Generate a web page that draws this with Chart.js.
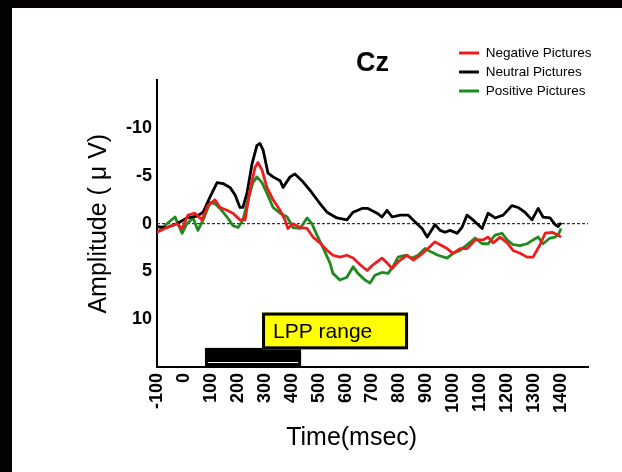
<!DOCTYPE html>
<html>
<head>
<meta charset="utf-8">
<title>Cz</title>
<script src="https://cdn.jsdelivr.net/npm/chart.js@4.4.0/dist/chart.umd.min.js"></script>
<style>
  html, body { margin: 0; padding: 0; background: #050203; }
  #wrap { position: absolute; left: 12px; top: 8px; width: 610px; height: 464px; background: #fff; }
</style>
</head>
<body>
<div id="wrap"><canvas id="erp" width="610" height="464"></canvas></div>
<script>
const FONT = "'Liberation Sans', Arial, sans-serif";

// grand-average ERP at Cz, time in ms, amplitude in µV (negative up)
const negTimes = [-100, -63, -26, -7, 15, 41, 67, 89, 115, 134, 160, 182, 208, 227, 245, 264, 275, 290, 308, 331,
  357, 375, 386, 405, 431, 457, 479, 505, 531, 553, 579, 605, 628, 654, 680, 702, 735, 754, 773, 795,
  828, 851, 877, 906, 932, 951, 977, 999, 1025, 1051, 1081, 1110, 1129, 1148, 1174, 1200, 1222, 1248, 1274, 1296,
  1322, 1341, 1367, 1389, 1400];
const negValues = [0.9, 0.4, 0, 0.5, -0.9, -1.1, -0.4, -1.9, -2.5, -1.7, -1.4, -1.1, -0.4, -0.4, -3.5, -5.9, -6.4, -5.6, -3.8, -2.5,
  -1.4, -0.4, 0.5, 0, 0.4, 0.5, 1.4, 2.0, 2.8, 3.3, 3.5, 3.3, 3.6, 4.3, 4.9, 4.3, 3.6, 4.1, 4.7, 4.0,
  3.3, 3.8, 3.3, 2.6, 1.9, 2.2, 2.6, 3.1, 2.6, 2.6, 1.7, 1.7, 1.4, 2.0, 1.4, 2.0, 2.8, 3.1, 3.5, 3.5,
  2.2, 1.0, 0.9, 1.2, 1.4];

const neuTimes = [-100, -63, -26, 11, 49, 71, 97, 123, 145, 171, 190, 208, 219, 234, 253, 271, 282, 294, 312, 331,
  357, 368, 394, 412, 438, 468, 505, 531, 568, 605, 628, 661, 683, 717, 735, 754, 773, 802, 832, 865,
  884, 903, 932, 951, 969, 988, 1014, 1032, 1051, 1073, 1107, 1129, 1155, 1185, 1218, 1240, 1266, 1292, 1315, 1333,
  1359, 1378, 1389, 1400];
const neuValues = [0.3, 0.4, 0, -0.6, -0.8, -1.2, -2.8, -4.3, -4.2, -3.8, -3.0, -1.7, -1.7, -3.2, -6.3, -8.2, -8.4, -7.7, -5.3, -4.9,
  -4.5, -3.8, -4.9, -5.2, -4.5, -3.5, -2.1, -1.2, -0.6, -0.4, -1.2, -1.6, -1.6, -1.1, -0.7, -1.4, -0.7, -0.9, -0.9, 0,
  0.5, 1.4, 0.1, 0.7, 0.9, 0.7, 1.0, 0.4, -0.9, -0.4, 0.5, -1.1, -0.6, -0.9, -1.9, -1.7, -1.2, -0.4, -1.6, -0.7,
  -0.6, 0.1, 0.3, -0.1];

const posTimes = [-100, -63, -33, -7, 11, 34, 52, 71, 97, 115, 134, 160, 182, 201, 219, 238, 256, 271, 290, 308,
  331, 357, 383, 405, 431, 457, 475, 494, 516, 542, 553, 579, 605, 628, 646, 672, 691, 709, 735, 758,
  776, 795, 821, 847, 869, 895, 921, 943, 977, 999, 1025, 1051, 1081, 1107, 1129, 1155, 1181, 1200, 1222, 1248,
  1274, 1296, 1315, 1333, 1359, 1378, 1389, 1400];
const posValues = [0.9, 0, -0.7, 1.0, 0, -0.6, 0.7, -0.4, -2.2, -2.1, -1.6, -0.7, 0.2, 0.4, -0.4, -2.5, -4.3, -4.9, -4.3, -3.2,
  -1.7, -1.1, -0.7, 0.4, 0.5, -0.6, 0, 1.2, 2.5, 4.1, 5.2, 5.9, 5.6, 4.5, 5.2, 5.9, 6.2, 5.4, 5.1, 5.2,
  4.5, 3.5, 3.3, 3.6, 3.3, 2.6, 3.0, 3.3, 3.6, 3.1, 2.8, 2.2, 1.5, 2.1, 2.1, 1.2, 1.0, 1.7, 2.2, 2.3,
  2.1, 1.7, 1.4, 2.1, 1.5, 1.4, 1.2, 0.5];

const xTickValues = [-100, 0, 100, 200, 300, 400, 500, 600, 700, 800, 900, 1000, 1100, 1200, 1300, 1400];
const yTickValues = [-10, -5, 0, 5, 10];

// LPP window marker (ms) and the label box beside it (ms, µV)
const lppWindow = [78, 435];
const lppDepth = [13.0, 15];
const lppLabelSpan = [290, 832];
const lppLabelDepth = [9.3, 13.15];

const toPoints = (times, values) => times.map((t, i) => ({ x: t, y: values[i] }));

const lppPlugin = {
  id: 'lppRange',
  afterDatasetsDraw(chart) {
    const { ctx, scales: { x, y } } = chart;
    const bx0 = x.getPixelForValue(lppWindow[0]);
    const bx1 = x.getPixelForValue(lppWindow[1]);
    const by0 = y.getPixelForValue(lppDepth[0]);
    const by1 = y.getPixelForValue(lppDepth[1]);
    ctx.save();
    ctx.fillStyle = '#000';
    ctx.fillRect(bx0, by0, bx1 - bx0, by1 - by0);
    ctx.strokeStyle = '#fff';
    ctx.lineWidth = 1;
    ctx.beginPath();
    ctx.moveTo(bx0 + 3, by1 - 4.5);
    ctx.lineTo(bx1 - 3, by1 - 4.5);
    ctx.stroke();

    const lx0 = x.getPixelForValue(lppLabelSpan[0]);
    const lx1 = x.getPixelForValue(lppLabelSpan[1]);
    const ly0 = y.getPixelForValue(lppLabelDepth[0]);
    const ly1 = y.getPixelForValue(lppLabelDepth[1]);
    ctx.fillStyle = '#ffff00';
    ctx.fillRect(lx0, ly0, lx1 - lx0, ly1 - ly0);
    ctx.strokeStyle = '#000';
    ctx.lineWidth = 3;
    ctx.strokeRect(lx0 + 1.5, ly0 + 1.5, lx1 - lx0 - 3, ly1 - ly0 - 3);
    ctx.fillStyle = '#000';
    ctx.font = '21px ' + FONT;
    ctx.textBaseline = 'middle';
    ctx.fillText('LPP range', lx0 + 11, (ly0 + ly1) / 2 + 1);
    ctx.restore();
  }
};

// park the legend in the top-right corner, above the plot
const legendCorner = {
  id: 'legendCorner',
  afterLayout(chart) {
    const lg = chart.legend;
    lg.left = 441.5;
    lg.top = 32.75;
    lg.right = 610;
    lg.bottom = 130;
    lg.width = lg.right - lg.left;
    lg.height = lg.bottom - lg.top;
  }
};

new Chart(document.getElementById('erp'), {
  type: 'line',
  data: {
    datasets: [
      { label: 'Negative Pictures', data: toPoints(negTimes, negValues), borderColor: '#ee1c1c', borderWidth: 2.8 },
      { label: 'Neutral Pictures', data: toPoints(neuTimes, neuValues), borderColor: '#000000', borderWidth: 2.8 },
      { label: 'Positive Pictures', data: toPoints(posTimes, posValues), borderColor: '#1f8b1f', borderWidth: 2.8 },
      { label: 'baseline', data: [{ x: -100, y: 0 }, { x: 1500, y: 0 }], borderColor: '#000', borderWidth: 1, borderDash: [3, 2] }
    ]
  },
  options: {
    responsive: false,
    animation: false,
    devicePixelRatio: 1,
    layout: { padding: { left: 0, right: 34, top: 0, bottom: 0 } },
    elements: { point: { radius: 0 }, line: { tension: 0, borderJoinStyle: 'round' } },
    plugins: {
      title: {
        display: true,
        text: 'Cz',
        fullSize: false,
        color: '#000',
        font: { family: FONT, size: 27, weight: 'bold' },
        padding: { top: 39, bottom: 1 }
      },
      legend: {
        position: 'chartArea',
        align: 'start',
        labels: {
          usePointStyle: true,
          pointStyle: 'line',
          pointStyleWidth: 20,
          padding: 5.5,
          color: '#000',
          font: { family: FONT, size: 13.5 },
          filter: item => item.datasetIndex < 3
        }
      },
      tooltip: { enabled: false }
    },
    scales: {
      x: {
        type: 'linear',
        min: -100,
        max: 1500,
        afterBuildTicks: s => { s.ticks = xTickValues.map(v => ({ value: v })); },
        afterFit: s => { s.height = 105; },
        grid: { display: false, drawTicks: false },
        border: { display: true, color: '#000', width: 2 },
        ticks: {
          autoSkip: false,
          minRotation: 90,
          maxRotation: 90,
          padding: 6,
          color: '#000',
          font: { family: FONT, size: 18, weight: 'bold' },
          callback: v => String(v)
        },
        title: {
          display: true,
          text: 'Time(msec)      ',
          color: '#000',
          font: { family: FONT, size: 25 },
          padding: { top: 0, bottom: 19 }
        }
      },
      y: {
        type: 'linear',
        min: -15,
        max: 15,
        reverse: true,
        afterBuildTicks: s => { s.ticks = yTickValues.map(v => ({ value: v })); },
        afterFit: s => { s.width = 145; },
        grid: { display: false, drawTicks: false },
        border: { display: true, color: '#000', width: 2 },
        ticks: {
          padding: 5,
          color: '#000',
          font: { family: FONT, size: 18, weight: 'bold' },
          callback: v => String(v)
        },
        title: {
          display: true,
          text: 'Amplitude ( μ V)',
          color: '#000',
          font: { family: FONT, size: 25 },
          padding: { top: 72, bottom: 0 }
        }
      }
    }
  },
  plugins: [lppPlugin, legendCorner]
});
</script>
</body>
</html>
